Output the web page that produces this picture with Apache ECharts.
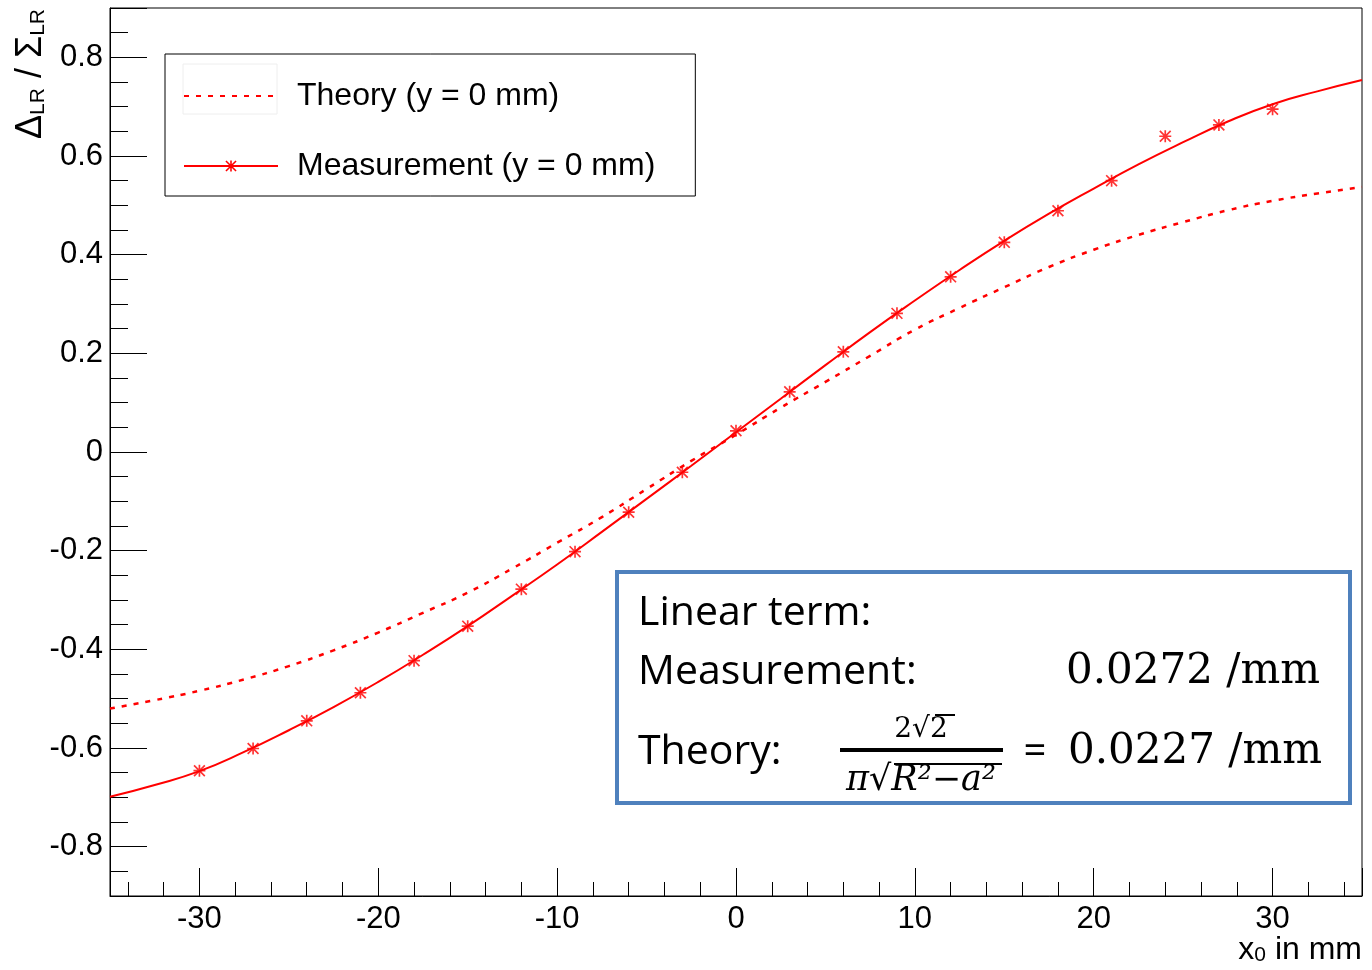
<!DOCTYPE html>
<html>
<head>
<meta charset="utf-8">
<script src="https://cdn.jsdelivr.net/npm/echarts@6/dist/echarts.min.js"></script>
<style>
html, body { margin: 0; padding: 0; background: #fff; }
#main { width: 1372px; height: 970px; }
</style>
</head>
<body>
<div id="main"></div>
<script>
// measured points (x0 in mm, asymmetry)
var measX = [-30, -27, -24, -21, -18, -15, -12, -9, -6, -3, 0, 3, 6, 9, 12, 15, 18, 21, 24, 27, 30];
var measY = [-0.646, -0.601, -0.545, -0.488, -0.423, -0.353, -0.278, -0.202, -0.122, -0.041, 0.043,
             0.122, 0.203, 0.281, 0.355, 0.425, 0.489, 0.550, 0.640, 0.663, 0.695];

// curves every 2.5 mm
var curveX = [-35, -32.5, -30, -27.5, -25, -22.5, -20, -17.5, -15, -12.5, -10, -7.5, -5, -2.5, 0,
              2.5, 5, 7.5, 10, 12.5, 15, 17.5, 20, 22.5, 25, 27.5, 30, 32.5, 35];
var fitY = [-0.699, -0.675, -0.647, -0.608, -0.564, -0.517, -0.466, -0.411, -0.353, -0.291, -0.228,
            -0.162, -0.095, -0.028, 0.040, 0.108, 0.176, 0.243, 0.307, 0.369, 0.428, 0.483, 0.534,
            0.583, 0.628, 0.670, 0.705, 0.731, 0.754];
var theoryY = [-0.520, -0.503, -0.484, -0.461, -0.434, -0.402, -0.366, -0.326, -0.285, -0.236, -0.184,
               -0.132, -0.075, -0.018, 0.035, 0.090, 0.142, 0.195, 0.248, 0.292, 0.334, 0.375, 0.410,
               0.440, 0.466, 0.490, 0.509, 0.524, 0.537];

// tick labels
var xTicks = [-30, -20, -10, 0, 10, 20, 30];
var xTickLabels = ['-30', '-20', '-10', '0', '10', '20', '30'];
var yTicks = [-0.8, -0.6, -0.4, -0.2, 0, 0.2, 0.4, 0.6, 0.8];
var yTickLabels = ['-0.8', '-0.6', '-0.4', '-0.2', '0', '0.2', '0.4', '0.6', '0.8'];

var theoryName = 'Theory (y = 0 mm)';
var measName = 'Measurement (y = 0 mm)';

function pairs(xs, ys) {
    return xs.map(function (x, i) { return [x, ys[i]]; });
}
function tickFormatter(ticks, labels) {
    return function (v) {
        for (var i = 0; i < ticks.length; i++) {
            if (Math.abs(ticks[i] - v) < 1e-6) return labels[i];
        }
        return '';
    };
}

// ROOT style asterisk marker
var starPath = 'path://M4.3 0H5.7V10H4.3Z M0 4.3H10V5.7H0Z ' +
    'M0.995 0.005L9.995 9.005L9.005 9.995L0.005 0.995Z ' +
    'M9.995 0.995L0.995 9.995L0.005 9.005L9.005 0.005Z';

var font = 'Liberation Sans';
var red = '#ff0000';

var myChart = echarts.init(document.getElementById('main'));

var option = {
    animation: false,
    backgroundColor: '#fff',
    grid: {
        left: 110, right: 10, top: 8, bottom: 74,
        show: true, borderColor: '#000', borderWidth: 1, backgroundColor: 'transparent'
    },
    legend: {
        data: [
            { name: theoryName, itemStyle: { color: 'rgba(0,0,0,0)', borderWidth: 0 } },
            { name: measName }
        ],
        orient: 'vertical',
        left: 165, top: 54,
        padding: [24, 40, 12, 18],
        itemWidth: 94, itemHeight: 14, itemGap: 34,
        borderColor: '#000', borderWidth: 1,
        backgroundColor: '#fff',
        textStyle: { fontFamily: font, fontSize: 32, color: '#000', lineHeight: 36, padding: [0, 0, 0, 14] }
    },
    xAxis: [
        {
            type: 'value', min: -35, max: 35, splitNumber: 7, position: 'bottom',
            axisLine: { show: true, onZero: false, lineStyle: { color: '#000', width: 1 } },
            axisTick: { show: true, inside: true, length: 28, lineStyle: { color: '#000' } },
            axisLabel: {
                formatter: tickFormatter(xTicks, xTickLabels),
                fontFamily: font, fontSize: 31, color: '#000', margin: 8
            },
            splitLine: { show: false }
        },
        {
            type: 'value', min: -35, max: 35, splitNumber: 35, position: 'bottom',
            axisLine: { show: false, onZero: false },
            axisTick: { show: true, inside: true, length: 14, lineStyle: { color: '#000' } },
            axisLabel: { show: false },
            splitLine: { show: false }
        }
    ],
    yAxis: [
        {
            type: 'value', min: -0.9, max: 0.9, splitNumber: 9, position: 'left',
            axisLine: { show: true, onZero: false, lineStyle: { color: '#000', width: 1 } },
            axisTick: { show: true, inside: true, length: 37, lineStyle: { color: '#000' } },
            axisLabel: {
                formatter: tickFormatter(yTicks, yTickLabels),
                fontFamily: font, fontSize: 31, color: '#000', margin: 7
            },
            splitLine: { show: false }
        },
        {
            type: 'value', min: -0.9, max: 0.9, interval: 0.05, position: 'left',
            axisLine: { show: false, onZero: false },
            axisTick: { show: true, inside: true, length: 18, lineStyle: { color: '#000' } },
            axisLabel: { show: false },
            splitLine: { show: false }
        }
    ],
    series: [
        {
            name: theoryName,
            type: 'line',
            data: pairs(curveX, theoryY),
            smooth: true,
            symbol: 'none',
            lineStyle: { color: red, width: 2.5, type: [5, 7] },
            itemStyle: { color: red },
            z: 2
        },
        {
            name: measName,
            type: 'line',
            data: pairs(curveX, fitY),
            smooth: true,
            symbol: starPath,
            symbolSize: 12,
            showSymbol: false,
            lineStyle: { color: red, width: 2 },
            itemStyle: { color: red },
            z: 3
        },
        {
            name: 'points',
            type: 'scatter',
            data: pairs(measX, measY),
            symbol: starPath,
            symbolSize: 12,
            itemStyle: { color: red },
            z: 4
        }
    ],
    graphic: [
        // faint frame around the theory legend sample
        { type: 'rect', z: 100, shape: { x: 183, y: 64, width: 94, height: 50 },
          style: { fill: 'none', stroke: '#eeeeee', lineWidth: 1 } },
        // y axis title
        { type: 'text', z: 100, x: 31, y: 9, rotation: Math.PI / 2,
          style: {
              text: '{g|Δ}{s|LR}{g| / Σ}{s|LR}',
              align: 'right', verticalAlign: 'middle', fill: '#000',
              rich: {
                  g: { fontFamily: font, fontSize: 36, lineHeight: 36, verticalAlign: 'bottom' },
                  s: { fontFamily: font, fontSize: 21, lineHeight: 21, verticalAlign: 'bottom' }
              }
          } },
        // x axis title
        { type: 'text', z: 100, x: 1362, y: 950,
          style: {
              text: '{m|x}{s|0}{m| in mm}',
              align: 'right', verticalAlign: 'middle', fill: '#000',
              rich: {
                  m: { fontFamily: font, fontSize: 32, lineHeight: 32, verticalAlign: 'top' },
                  s: { fontFamily: font, fontSize: 21, lineHeight: 21, verticalAlign: 'bottom', padding: [18, 0, 0, 0] }
              }
          } },
        // annotation box
        { type: 'rect', z: 100, shape: { x: 617, y: 572, width: 733, height: 231 },
          style: { fill: '#fff', stroke: '#4f81bd', lineWidth: 4 } },
        { type: 'text', z: 101, x: 638, y: 613,
          style: { text: 'Linear term:', fontFamily: 'Open Sans', fontSize: 41, fill: '#000', verticalAlign: 'middle' } },
        { type: 'text', z: 101, x: 638, y: 672,
          style: { text: 'Measurement:', fontFamily: 'Open Sans', fontSize: 41, fill: '#000', verticalAlign: 'middle' } },
        { type: 'text', z: 101, x: 1066, y: 672,
          style: { text: '0.0272 /mm', fontFamily: 'DejaVu Serif', fontSize: 42, fill: '#000', verticalAlign: 'middle' } },
        { type: 'text', z: 101, x: 638, y: 752,
          style: { text: 'Theory:', fontFamily: 'Open Sans', fontSize: 41, fill: '#000', verticalAlign: 'middle' } },
        { type: 'text', z: 101, x: 921, y: 730,
          style: { text: '2√2', fontFamily: 'DejaVu Serif', fontSize: 28, fill: '#000', align: 'center', verticalAlign: 'middle' } },
        { type: 'rect', z: 101, shape: { x: 935, y: 714, width: 20, height: 2 }, style: { fill: '#000' } },
        { type: 'rect', z: 101, shape: { x: 840, y: 748, width: 163, height: 4 }, style: { fill: '#000' } },
        { type: 'text', z: 101, x: 921, y: 781,
          style: { text: 'π√R²−a²', fontFamily: 'DejaVu Serif', fontStyle: 'italic', fontSize: 35, fill: '#000', align: 'center', verticalAlign: 'middle' } },
        { type: 'rect', z: 101, shape: { x: 894, y: 763, width: 108, height: 2 }, style: { fill: '#000' } },
        { type: 'text', z: 101, x: 1035, y: 753,
          style: { text: '=', fontFamily: 'Open Sans', fontSize: 40, fill: '#000', align: 'center', verticalAlign: 'middle' } },
        { type: 'text', z: 101, x: 1068, y: 752,
          style: { text: '0.0227 /mm', fontFamily: 'DejaVu Serif', fontSize: 42, fill: '#000', verticalAlign: 'middle' } }
    ]
};

myChart.setOption(option);
</script>
</body>
</html>
